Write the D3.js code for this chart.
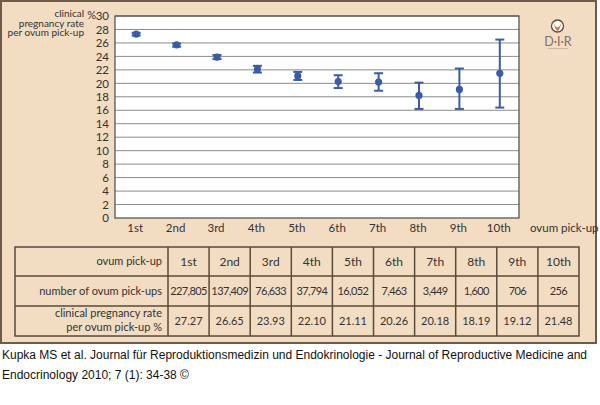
<!DOCTYPE html>
<html>
<head>
<meta charset="utf-8">
<script src="https://cdn.jsdelivr.net/npm/d3@7/dist/d3.min.js"></script>
<style>
  body { margin: 0; background: #fff; }
  svg text { font-family: Lato, "Noto Sans", sans-serif; }
</style>
</head>
<body>
<script>
// daten
var pickups = ["1st", "2nd", "3rd", "4th", "5th", "6th", "7th", "8th", "9th", "10th"];
var plotRate = [27.3, 25.7, 23.9, 22.1, 21.1, 20.26, 20.2, 18.2, 19.1, 21.5];   // punkte wie im bild
var ciLow  = [27.1, 25.45, 23.6, 21.6, 20.5, 19.3, 18.9, 16.2, 16.2, 16.4];
var ciHigh = [27.5, 25.9, 24.2, 22.6, 21.7, 21.2, 21.5, 20.1, 22.2, 26.5];
var numPickups = ["227,805", "137,409", "76,633", "37,794", "16,052", "7,463", "3,449", "1,600", "706", "256"];
var rateTable = ["27.27", "26.65", "23.93", "22.10", "21.11", "20.26", "20.18", "18.19", "19.12", "21.48"];
var yTicks = d3.range(0, 31, 2);

var W = 600, H = 405;
var blue = "#3a5ca6", beige = "#f2dcc2", brown = "#6e5c4a", ink = "#333";

var svg = d3.select("body").append("svg")
  .attr("width", W).attr("height", H);

// hintergrund
svg.append("rect").attr("x", 1).attr("y", 1).attr("width", 595).attr("height", 342)
  .attr("fill", beige).attr("stroke", brown).attr("stroke-width", 2);

var plot = { left: 115, right: 519, top: 16, bottom: 218 };

var x = d3.scaleBand().domain(pickups).range([plot.left, plot.right]);
var y = d3.scaleLinear().domain([0, 30]).range([plot.bottom, plot.top]);

svg.append("rect")
  .attr("x", plot.left).attr("y", plot.top)
  .attr("width", plot.right - plot.left).attr("height", plot.bottom - plot.top)
  .attr("fill", "#fff");

// gitter
svg.append("g").selectAll("line").data(yTicks.slice(1)).enter().append("line")
  .attr("x1", plot.left).attr("x2", plot.right)
  .attr("y1", function(d) { return y(d); }).attr("y2", function(d) { return y(d); })
  .attr("stroke", "#8c8c8c").attr("stroke-width", 1);

svg.append("rect")
  .attr("x", plot.left).attr("y", plot.top)
  .attr("width", plot.right - plot.left).attr("height", plot.bottom - plot.top)
  .attr("fill", "none").attr("stroke", "#4a4a4a").attr("stroke-width", 1.2);

// achsen
var yAxis = svg.append("g").attr("transform", "translate(" + plot.left + ",0)")
  .call(d3.axisLeft(y).tickValues(yTicks).tickSize(0).tickPadding(6));
yAxis.select(".domain").remove();
yAxis.selectAll("text").attr("font-size", 11.5).attr("fill", ink)
  .style("font-family", "Lato, sans-serif");

var xAxis = svg.append("g").attr("transform", "translate(0," + plot.bottom + ")")
  .call(d3.axisBottom(x).tickSize(0).tickPadding(6));
xAxis.select(".domain").remove();
xAxis.selectAll("text").attr("font-size", 11.5).attr("fill", ink)
  .style("font-family", "Lato, sans-serif");

svg.append("text").attr("x", 530).attr("y", 232).attr("font-size", 11.5).attr("fill", ink)
  .text("ovum pick-up");

svg.append("text").attr("x", 96).attr("y", 19).attr("font-size", 11).attr("fill", ink)
  .attr("text-anchor", "end").text("%");
["clinical", "pregnancy rate", "per ovum pick-up"].forEach(function(t, i) {
  svg.append("text").attr("x", 84).attr("y", 17 + i * 9.6).attr("font-size", 10)
    .attr("fill", ink).attr("text-anchor", "end").text(t);
});

// fehlerbalken
var g = svg.append("g");
pickups.forEach(function(p, i) {
  var cx = x(p) + x.bandwidth() / 2 + 1;
  g.append("line").attr("x1", cx).attr("x2", cx)
    .attr("y1", y(ciLow[i])).attr("y2", y(ciHigh[i]))
    .attr("stroke", blue).attr("stroke-width", 2);
  [ciLow[i], ciHigh[i]].forEach(function(v) {
    g.append("line").attr("x1", cx - 4.5).attr("x2", cx + 4.5)
      .attr("y1", y(v)).attr("y2", y(v))
      .attr("stroke", blue).attr("stroke-width", 2);
  });
  g.append("circle").attr("cx", cx).attr("cy", y(plotRate[i])).attr("r", 3.6)
    .attr("fill", blue);
});

// logo
svg.append("circle").attr("cx", 557.5).attr("cy", 26).attr("r", 6)
  .attr("fill", "#fff").attr("stroke", "#5a4a3a").attr("stroke-width", 1.3);
svg.append("path").attr("d", "M553.5,22 Q555,30 557.5,31 Q560,30 561.5,22 Q560,27 557.5,27.5 Q555,27 553.5,22Z")
  .attr("fill", "#e0742a");
svg.append("text").attr("x", 558).attr("y", 46).attr("text-anchor", "middle")
  .attr("font-size", 12.5).attr("fill", "#7d7068")
  .text("D·I·R");
svg.append("line").attr("x1", 548).attr("x2", 568).attr("y1", 48.5).attr("y2", 48.5)
  .attr("stroke", "#a8998c").attr("stroke-width", 0.8).attr("stroke-dasharray", "1,0.6");

// tabelle
var tLeft = 15, tTop = 247, firstCol = 168, colW = 41.1;
var rowY = [247, 276, 306, 336];
var line = "#5a4a3a";
var t = svg.append("g");
t.append("rect").attr("x", tLeft).attr("y", tTop).attr("width", firstCol + colW * 10 - tLeft)
  .attr("height", rowY[3] - tTop).attr("fill", beige).attr("stroke", line).attr("stroke-width", 1.5);
rowY.slice(1, 3).forEach(function(ry) {
  t.append("line").attr("x1", tLeft).attr("x2", firstCol + colW * 10).attr("y1", ry).attr("y2", ry)
    .attr("stroke", line).attr("stroke-width", 1.5);
});
d3.range(0, 10).forEach(function(c) {
  var cxl = firstCol + colW * c;
  t.append("line").attr("x1", cxl).attr("x2", cxl).attr("y1", tTop).attr("y2", rowY[3])
    .attr("stroke", line).attr("stroke-width", 1.5);
});
var rows = [pickups, numPickups, rateTable];
rows.forEach(function(r, ri) {
  r.forEach(function(v, c) {
    t.append("text").attr("x", firstCol + colW * c + colW / 2)
      .attr("y", (rowY[ri] + rowY[ri + 1]) / 2 + 4)
      .attr("text-anchor", "middle").attr("font-size", ri == 0 ? 12 : 11)
      .attr("letter-spacing", ri == 1 ? -0.6 : 0)
      .attr("fill", ink)
      .text(v);
  });
});
var rowLabels = [["ovum pick-up", 265], ["number of ovum pick-ups", 295],
  ["clinical pregnancy rate", 317], ["per ovum pick-up %", 331]];
rowLabels.forEach(function(r) {
  t.append("text").attr("x", 162).attr("y", r[1]).attr("text-anchor", "end")
    .attr("font-size", 11).attr("fill", ink).text(r[0]);
});

// quelle
var foot = svg.append("g");
foot.append("text").attr("x", 2).attr("y", 359).attr("font-size", 12).attr("fill", "#111")
  .style("font-family", "'Liberation Sans', Arial, sans-serif")
  .text("Kupka MS et al. Journal für Reproduktionsmedizin und Endokrinologie - Journal of Reproductive Medicine and");
foot.append("text").attr("x", 2).attr("y", 379).attr("font-size", 12).attr("fill", "#111")
  .style("font-family", "'Liberation Sans', Arial, sans-serif")
  .text("Endocrinology 2010; 7 (1): 34-38 ©");
</script>
</body>
</html>
